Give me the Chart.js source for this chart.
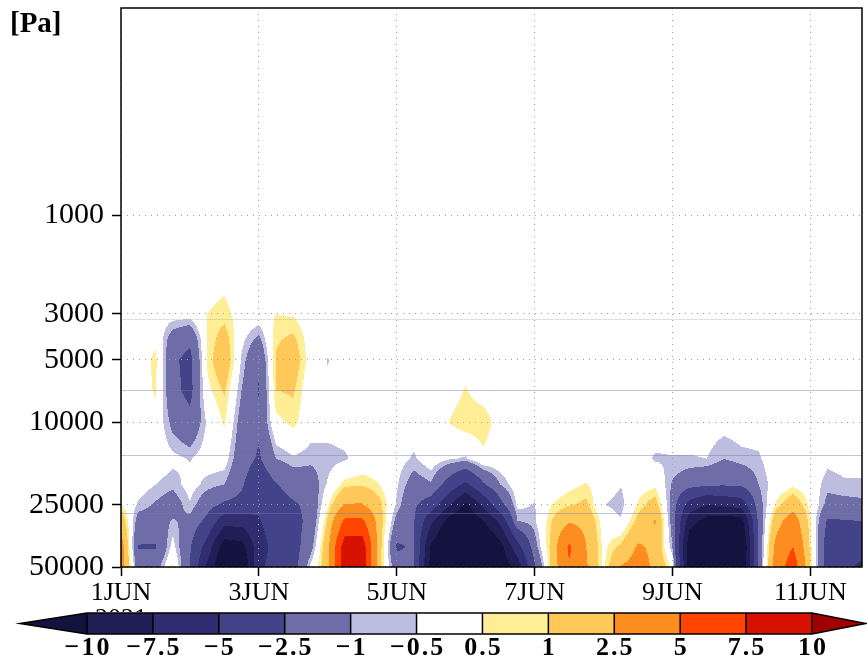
<!DOCTYPE html>
<html>
<head>
<meta charset="utf-8">
<title>Omega Hovmoller</title>
<script src="https://cdn.jsdelivr.net/npm/chart.js@4.4.1/dist/chart.umd.min.js"></script>
<style>
  html, body { margin: 0; padding: 0; background: #fff; }
  #wrap { width: 867px; height: 660px; }
</style>
</head>
<body>
<div id="wrap"><canvas id="hov" width="867" height="660"></canvas></div>
<script>
// --- grid: 6-hourly from 1 JUN 00Z, pressure levels in Pa ---
const STEP_DAYS = 0.25;
const LEVELS = [2000, 3000, 4000, 5000, 7000, 10000, 15000, 20000, 25000, 30000, 40000, 50000];

// field values per level, one entry per time step (44 steps)
const P2000  = [0,0,0,0,0,0.2,0.3,0,0,0,0,0, 0,0,0,0,0,0,0,0,0,0,0,0, 0,0,0,0,0,0,0,0,0,0,0,0, 0,0,0,0,0,0,0,0];
const P3000  = [0,0,0,-0.1,-0.1,0.5,0.7,0.2,0.1,0.5,0.4,0, 0,0,0,0,0,0,0,0,0,0,0,0, 0,0,0,0,0,0,0,0,0,0,0,0, 0,0,0,0,0,0,0,0];
const P4000  = [0,0,0.3,-1.6,-2.2,0.5,1.5,-0.3,-1.3,0.9,1.2,0.1, 0,0,0,0,0,0,0,0,0,0,0,0, 0,0,0,0,0,0,0,0,0,0,0,0, 0,0,0,0,0,0,0,0];
const P5000  = [0,0,0.7,-2.2,-3.0,0.6,1.9,-0.6,-2.3,1.1,1.6,0.1, -0.55,0,0,0,0,0,0,0,0.2,0,0,0, 0,0,0,0,0,0,0,0,0,0,0,0, 0,0,0,0,0,0,0,0];
const P7000  = [0,0,0.6,-2.0,-3.0,0.3,1.1,-1.0,-2.6,1.0,1.1,-0.1, -0.3,-0.1,0,0,0,0,0,0.1,0.55,0.1,0,0, 0,0,0,0,0,0,0,0,0,0,0,0, 0,0,0,0,0,0,0,0];
const P10000 = [0,0,0.2,-1.3,-2.0,-0.4,0.6,-1.5,-2.2,0.3,0.7,-0.1, -0.1,-0.1,0,0,0,-0.1,0,0.5,0.9,0.9,0.1,0, 0,0,0,0,0,0,0,0,0,-0.1,-0.1,-0.2, -0.1,-0.1,0,0,0,0,0,0];
const P15000 = [0,0,0,-0.3,-0.55,-0.1,-0.1,-1.8,-2.7,-1.0,-0.6,-0.8, -0.8,-0.6,-0.1,0,-0.2,-0.6,0,-0.4,-0.6,0.3,0.1,0, 0,0,0,0,0,0,-0.1,-0.6,-0.55,-0.55,-0.5,-1.0, -0.7,-0.6,0,0,0,-0.3,-0.2,-0.2];
const P20000 = [0.1,-0.1,-0.5,-0.8,-0.2,-0.7,-1.0,-2.3,-3.8,-2.6,-1.8,-1.6, -0.4,0.8,0.9,0.5,-0.4,-1.5,-1.1,-3.3,-5.5,-2.8,-1.0,0, -0.1,0,0.3,0.55,0,-0.45,0.1,0.3,-1.1,-1.8,-2.2,-2.3, -2.1,-1.0,-0.1,0.3,0,-0.8,-0.6,-0.6];
const P25000 = [0.5,-0.6,-1.1,-1.6,-0.55,-1.8,-2.8,-3.0,-4.5,-3.3,-2.7,-2.1, 0.4,2.6,2.6,1.3,-0.6,-2.2,-3.5,-7,-10.5,-7,-3.2,-0.3, -0.55,0.5,0.9,1.2,-0.45,-0.8,0.6,1.5,-1.5,-6,-7.5,-7, -6.5,-1.5,0.6,1.8,0.3,-1.3,-1.3,-1.2];
const P30000 = [1.8,-1.5,-1.7,-0.9,-1.3,-3.0,-6.5,-6.5,-5.2,-3.8,-3.0,-2.1, 1.2,5.5,5.5,1.6,-1.4,-2.4,-7,-11,-12.5,-10.2,-7,-1.0, -0.6,1.0,2.3,2.0,0.1,-0.4,1.3,2.6,-1.5,-9,-11,-11.5, -11,-2.0,1.8,3.5,0.6,-2.7,-2.6,-2.5];
const P40000 = [3.5,-2.6,-2.6,-0.2,-2.3,-6,-11.5,-11,-6,-4.2,-3.2,-1.5, 2.0,9,9,1.5,-2.7,-2.3,-10.5,-13.5,-14,-13.5,-11,-6, -1.5,1.4,5.4,2.5,0.3,1.2,2.7,2.2,-1.0,-12,-14,-14, -13.5,-2.0,3.0,5.0,0.8,-3.5,-3.8,-4.0];
const P50000 = [3.5,-1.8,-1.6,0.6,-2.5,-8,-13,-13,-5.5,-4,-3.3,-0.3, 1.8,9,9,1.2,-1.8,-2.3,-11,-13.5,-14,-13,-12,-9, -2.8,1.3,4.8,2.7,0.3,2.6,3.2,2.2,0.3,-11.5,-14,-14, -13,-2.0,3.5,6.5,1.0,-3.3,-4.5,-5.5];
const FIELD = [P2000, P3000, P4000, P5000, P7000, P10000, P15000, P20000, P25000, P30000, P40000, P50000];
const TIMES = P50000.map((_, i) => i * STEP_DAYS);

// axes
const X_TICKS = [0, 2, 4, 6, 8, 10];
const X_LABELS = [["1JUN", "2021"], "3JUN", "5JUN", "7JUN", "9JUN", "11JUN"];
const Y_TICKS = [1000, 3000, 5000, 10000, 25000, 50000];
const GUIDE_LEVELS = [3170, 7000, 14400, 27500];

// contour levels and fill colours (one more colour than levels)
const CB_LEVELS = [-10, -7.5, -5, -2.5, -1, -0.5, 0.5, 1, 2.5, 5, 7.5, 10];
const CB_COLORS = ["#141340", "#201f55", "#302e70", "#43438a", "#6e6da8", "#bdbde0", "#ffffff",
                   "#ffee96", "#ffc95a", "#fd8d1e", "#ff4400", "#d81200", "#a00000"];

function hexRgb(h){
  return [parseInt(h.slice(1, 3), 16), parseInt(h.slice(3, 5), 16), parseInt(h.slice(5, 7), 16)];
}
const CB_RGB = CB_COLORS.map(hexRgb);

function binOf(v){
  let k = 0;
  while (k < CB_LEVELS.length && v >= CB_LEVELS[k]) k++;
  return k;
}

function fmtLevel(v){ return v < 0 ? "\u2212" + Math.abs(v) : String(v); }

// filled contours: bilinear interpolation between grid nodes placed by the scales
const fieldPlugin = {
  id: "omegaField",
  beforeDraw(chart){
    const { ctx, chartArea: a, scales: { x, y } } = chart;
    const w = Math.round(a.right - a.left), h = Math.round(a.bottom - a.top);
    const colX = TIMES.map(t => x.getPixelForValue(t));
    const rowY = LEVELS.map(p => y.getPixelForValue(p));
    const off = document.createElement("canvas");
    off.width = w; off.height = h;
    const octx = off.getContext("2d");
    const img = octx.createImageData(w, h);
    const d = img.data;

    const xi = [], xf = [];
    for (let ix = 0; ix < w; ix++) {
      const px = a.left + ix + 0.5;
      let i = 0;
      while (i < colX.length - 2 && px > colX[i + 1]) i++;
      xi.push(i);
      xf.push(Math.max(0, Math.min(1, (px - colX[i]) / (colX[i + 1] - colX[i]))));
    }
    for (let iy = 0; iy < h; iy++) {
      const py = a.top + iy + 0.5;
      if (py < rowY[0]) continue;
      let j = 0;
      while (j < rowY.length - 2 && py > rowY[j + 1]) j++;
      const fy = Math.max(0, Math.min(1, (py - rowY[j]) / (rowY[j + 1] - rowY[j])));
      const r0 = FIELD[j], r1 = FIELD[j + 1];
      for (let ix = 0; ix < w; ix++) {
        const i = xi[ix], fx = xf[ix];
        const top = r0[i] + (r0[i + 1] - r0[i]) * fx;
        const bot = r1[i] + (r1[i + 1] - r1[i]) * fx;
        const c = CB_RGB[binOf(top + (bot - top) * fy)];
        const o = (iy * w + ix) * 4;
        d[o] = c[0]; d[o + 1] = c[1]; d[o + 2] = c[2]; d[o + 3] = 255;
      }
    }
    octx.putImageData(img, 0, 0);
    ctx.drawImage(off, a.left, a.top);

    // thin reference levels across the panel
    ctx.save();
    ctx.lineWidth = 1;
    GUIDE_LEVELS.forEach((p, k) => {
      const yy = Math.round(y.getPixelForValue(p)) + 0.5;
      ctx.strokeStyle = k === 0 ? "rgba(170,170,170,0.35)" : "rgba(120,120,170,0.45)";
      ctx.beginPath(); ctx.moveTo(a.left, yy); ctx.lineTo(a.right, yy); ctx.stroke();
    });
    ctx.restore();
  }
};

// frame, unit label and colour bar
const framePlugin = {
  id: "frameAndBar",
  afterDraw(chart){
    const { ctx, chartArea: a } = chart;
    ctx.save();
    ctx.strokeStyle = "#000";
    ctx.lineWidth = 1.5;
    ctx.strokeRect(a.left, a.top, a.right - a.left, a.bottom - a.top);

    ctx.fillStyle = "#000";
    ctx.font = "bold 29px 'Liberation Serif'";
    ctx.textAlign = "left";
    ctx.textBaseline = "alphabetic";
    ctx.fillText("[Pa]", 10, 32);

    const x0 = 87, x1 = 812, tipL = 20, tipR = 866, top = 613, bot = 634;
    const mid = (top + bot) / 2;
    const n = CB_LEVELS.length - 1;
    const bw = (x1 - x0) / n;
    for (let k = 0; k < n; k++) {
      ctx.fillStyle = CB_COLORS[k + 1];
      ctx.fillRect(x0 + k * bw, top, bw, bot - top);
    }
    ctx.fillStyle = CB_COLORS[0];
    ctx.beginPath(); ctx.moveTo(x0, top); ctx.lineTo(tipL, mid); ctx.lineTo(x0, bot); ctx.closePath(); ctx.fill();
    ctx.fillStyle = CB_COLORS[CB_COLORS.length - 1];
    ctx.beginPath(); ctx.moveTo(x1, top); ctx.lineTo(tipR, mid); ctx.lineTo(x1, bot); ctx.closePath(); ctx.fill();

    ctx.lineWidth = 1.5;
    ctx.beginPath();
    ctx.moveTo(x0, top); ctx.lineTo(x1, top); ctx.lineTo(tipR, mid); ctx.lineTo(x1, bot);
    ctx.lineTo(x0, bot); ctx.lineTo(tipL, mid); ctx.closePath();
    for (let k = 0; k <= n; k++) {
      ctx.moveTo(x0 + k * bw, top); ctx.lineTo(x0 + k * bw, bot);
    }
    ctx.stroke();

    ctx.fillStyle = "#000";
    ctx.font = "bold 26px 'Liberation Serif'";
    ctx.letterSpacing = "2px";
    ctx.textAlign = "center";
    ctx.textBaseline = "middle";
    CB_LEVELS.forEach((v, k) => ctx.fillText(fmtLevel(v), x0 + k * bw + 1, 648));
    ctx.restore();
  }
};

new Chart(document.getElementById("hov"), {
  type: "scatter",
  data: { datasets: [{ data: [], pointRadius: 0 }] },
  options: {
    responsive: false,
    animation: false,
    devicePixelRatio: 1,
    layout: { padding: { top: 8, right: 5, bottom: 48, left: 0 } },
    plugins: { legend: { display: false }, tooltip: { enabled: false } },
    scales: {
      x: {
        type: "linear", min: 0, max: TIMES[TIMES.length - 1],
        afterBuildTicks: s => { s.ticks = X_TICKS.map(v => ({ value: v })); },
        afterFit: s => { s.height = 45; s.paddingLeft = 0; s.paddingRight = 0; },
        ticks: {
          autoSkip: false, maxRotation: 0, padding: 4, color: "#000",
          font: { family: "Liberation Serif", size: 26, lineHeight: 1.0 },
          callback: (v, i) => X_LABELS[i]
        },
        grid: { color: "#a0a0a0", lineWidth: 1, tickLength: 9, tickColor: "#000", tickWidth: 1.5, tickBorderDash: [] },
        border: { display: false, dash: [1, 5] }
      },
      y: {
        type: "logarithmic", reverse: true, min: 100, max: 50000,
        afterBuildTicks: s => { s.ticks = Y_TICKS.map(v => ({ value: v })); },
        afterFit: s => { s.width = 121; s.paddingTop = 0; s.paddingBottom = 0; },
        ticks: {
          padding: 8, color: "#000",
          font: { family: "Liberation Serif", size: 30 },
          callback: v => String(v)
        },
        grid: { color: "#a0a0a0", lineWidth: 1, tickLength: 9, tickColor: "#000", tickWidth: 1.5, tickBorderDash: [] },
        border: { display: false, dash: [1, 5] }
      }
    }
  },
  plugins: [fieldPlugin, framePlugin]
});
</script>
</body>
</html>
